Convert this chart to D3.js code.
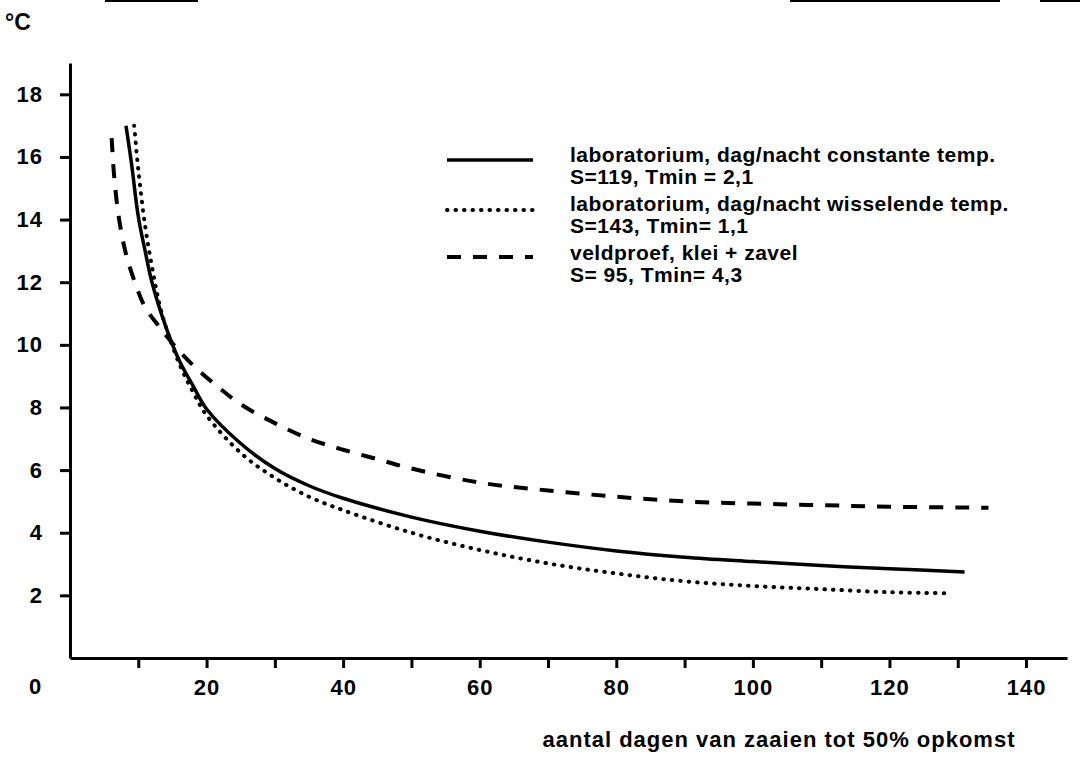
<!DOCTYPE html>
<html>
  <head>
    <meta charset="UTF-8">
    <title>opkomst</title>
  </head>
  <style type="text/css">
    body { margin: 0; background: #fff; }
    text {
      font-family: "Liberation Sans", Arial, sans-serif;
      font-weight: bold;
      fill: #000;
    }
    .tick text { font-size: 22px; letter-spacing: 1px; }
    .legend text { font-size: 21px; letter-spacing: 0.5px; }
    .domain, .tick line { stroke: #000; stroke-width: 3px; }
  </style>
  <body>
    <svg width="1084" height="759"></svg>
  </body>
  <script src="https://d3js.org/d3.v7.min.js"></script>
  <script type="text/javascript">
    // [days, degrees C]
    const constante = [[8.2,17.0],[9,15.8],[10,14.1],[11,13.0],[12,12.0],[14,10.6],[16,9.5],[18,8.7],
      [20,7.95],[25,6.85],[30,6.05],[35,5.5],[40,5.1],[50,4.5],[60,4.05],[70,3.7],[80,3.42],[90,3.22],
      [100,3.08],[110,2.95],[120,2.85],[131,2.75]];
    const wisselende = [[9.4,17.0],[10,15.6],[11,13.8],[12,12.5],[13,11.4],[14,10.6],[16,9.4],[18,8.5],
      [20,7.75],[25,6.55],[30,5.75],[35,5.15],[40,4.72],[50,4.0],[60,3.45],[70,3.02],[80,2.7],[90,2.45],
      [100,2.3],[110,2.2],[120,2.1],[128.5,2.07]];
    const veldproef = [[6.1,16.6],[6.5,15.3],[7.2,14.0],[8.2,12.9],[9.5,12.0],[11,11.2],[13,10.6],[16,9.8],
      [19,9.15],[22,8.6],[25,8.1],[30,7.5],[35,7.0],[40,6.65],[45,6.35],[50,6.05],[60,5.6],[70,5.35],
      [80,5.15],[90,5.0],[100,4.93],[110,4.88],[120,4.83],[134.5,4.8]];

    const xTicks = d3.range(10, 141, 10);
    const yTicks = d3.range(2, 19, 2);

    const legendLabels = [
      ['laboratorium, dag/nacht constante temp.', 'S=119, Tmin = 2,1'],
      ['laboratorium, dag/nacht wisselende temp.', 'S=143, Tmin= 1,1'],
      ['veldproef, klei + zavel', 'S= 95, Tmin= 4,3']
    ];

    const styles = [
      { width: 3.5, dash: null, cap: 'butt' },
      { width: 4, dash: '0.5 8', cap: 'round' },
      { width: 4, dash: '14 12', cap: 'butt' }
    ];
    const series = [constante, wisselende, veldproef];

    let svg = d3.select('svg');

    let x = d3.scaleLinear().domain([0, 146]).range([70, 1067]),
        y = d3.scaleLinear().domain([0, 19]).range([658, 63]);

    // scan edge fragments along the top
    svg.append('g').selectAll('line')
      .data([[105, 198], [790, 1000], [1040, 1080]])
      .enter().append('line')
        .attr('x1', d => d[0]).attr('x2', d => d[1])
        .attr('y1', 1).attr('y2', 1)
        .attr('stroke', '#000').attr('stroke-width', 2);

    svg.append('g')
        .attr('transform', 'translate(0,658)')
        .call(d3.axisBottom(x).tickValues(xTicks).tickSize(10).tickSizeOuter(0).tickPadding(11)
          .tickFormat(d => d % 20 === 0 ? d : ''));

    svg.append('g')
        .attr('transform', 'translate(70,0)')
        .call(d3.axisLeft(y).tickValues(yTicks).tickSize(10).tickSizeOuter(0).tickPadding(17));

    // origin label and units
    svg.append('text').attr('x', 35).attr('y', 694).attr('text-anchor', 'middle')
        .style('font-size', '22px').text('0');
    svg.append('text').attr('x', 5).attr('y', 30)
        .style('font-size', '23px').text('°C');

    svg.append('text').attr('x', 779).attr('y', 747).attr('text-anchor', 'middle')
        .style('font-size', '22px').style('letter-spacing', '1px')
        .text('aantal dagen van zaaien tot 50% opkomst');

    const line = d3.line()
        .x(d => x(d[0]))
        .y(d => y(d[1]))
        .curve(d3.curveCatmullRom);

    svg.selectAll('path.curve')
      .data(series)
      .enter().append('path')
        .attr('class', 'curve')
        .attr('d', line)
        .attr('fill', 'none')
        .attr('stroke', '#000')
        .attr('stroke-width', (d, i) => styles[i].width)
        .attr('stroke-dasharray', (d, i) => styles[i].dash)
        .attr('stroke-linecap', (d, i) => styles[i].cap);

    // legend
    const rowY = [160, 210, 257];
    const textY = [[162, 184], [211, 233], [260, 282]];
    const legend = svg.append('g').attr('class', 'legend');

    legendLabels.forEach((lab, i) => {
      legend.append('line')
          .attr('x1', 447).attr('x2', 533)
          .attr('y1', rowY[i]).attr('y2', rowY[i])
          .attr('stroke', '#000')
          .attr('stroke-width', styles[i].width)
          .attr('stroke-dasharray', styles[i].dash)
          .attr('stroke-linecap', styles[i].cap);
      legend.append('text').attr('x', 570).attr('y', textY[i][0]).text(lab[0]);
      legend.append('text').attr('x', 570).attr('y', textY[i][1]).text(lab[1]);
    });
  </script>
</html>
